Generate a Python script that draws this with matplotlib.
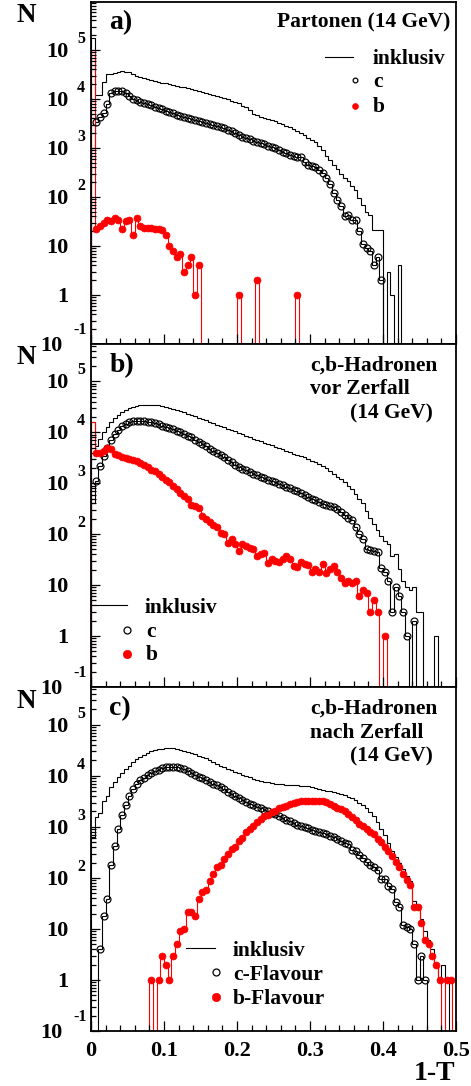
import numpy as np
import matplotlib
matplotlib.use("Agg")
import matplotlib.pyplot as plt
import matplotlib.transforms as mtransforms
from matplotlib.lines import Line2D
from matplotlib.ticker import LogLocator, MultipleLocator, NullFormatter

plt.rcParams['font.family'] = ['Liberation Serif', 'DejaVu Serif']
plt.rcParams['font.weight'] = 'bold'

W, H = 471, 1086
edges = np.linspace(0.0, 0.5, 101)
centers = 0.5 * (edges[:-1] + edges[1:])

# a) Partonen (14 GeV)
incl_a = [175000, 12000, 12000, 22600, 32000, 33000, 34000, 36000, 36500, 36000,
          35000, 32000, 29000, 27500, 26500, 25500, 24400, 23300, 22500, 21600,
          20800, 20000, 19300, 18600, 17900, 17200, 16600, 15900, 15200, 14500,
          13800, 13200, 12500, 11900, 11300, 10800, 10300, 9800, 9200, 8600,
          8100, 7300, 6800, 5900, 4900, 4600, 4300, 4100, 3900, 3720,
          3500, 3300, 3050, 2800, 2650, 2400, 2200, 2000, 1800, 1600,
          1420, 1300, 1100, 900, 700, 560, 440, 370, 290, 240,
          210, 170, 140, 94, 70, 50, 43, 21, 21, 21,
          0, 3, 1, 0, 4, 0, 0, 0, 0, 0,
          0, 0, 0, 0, 0, 0, 0, 0, 0, 0]
c_a = [1000, 3340, 4360, 5100, 7770, 13400, 14800, 14800, 14800, 13000,
       11500, 10200, 9550, 8800, 8170, 7800, 7400, 7000, 6600, 6200,
       5800, 5400, 5100, 4800, 4550, 4300, 4050, 3850, 3650, 3500,
       3350, 3200, 3050, 2900, 2750, 2620, 2500, 2330, 2190, 2030,
       1880, 1710, 1600, 1500, 1410, 1320, 1240, 1180, 1120, 1060,
       985, 910, 840, 778, 730, 690, 655, 645, 505, 455,
       430, 400, 355, 305, 240, 185, 119, 87, 64, 41,
       43, 34, 34, 20, 11, 9, 8, 4, 6, 2,
       0, 0, 0, 0, 0, 0, 0, 0, 0, 0,
       0, 0, 0, 0, 0, 0, 0, 0, 0, 0]
b_a = [100000, 22, 25, 29, 34, 33, 37, 34, 22, 33,
       34, 17, 37, 25, 23, 23, 23, 22, 22, 21,
       17, 10, 8, 6, 7, 3, 4, 6, 1, 4,
       0, 0, 0, 0, 0, 0, 0, 0, 0, 0,
       1, 0, 0, 0, 0, 2, 0, 0, 0, 0,
       0, 0, 0, 0, 0, 0, 1, 0, 0, 0,
       0, 0, 0, 0, 0, 0, 0, 0, 0, 0,
       0, 0, 0, 0, 0, 0, 0, 0, 0, 0,
       0, 0, 0, 0, 0, 0, 0, 0, 0, 0,
       0, 0, 0, 0, 0, 0, 0, 0, 0, 0]

# b) c,b-Hadronen vor Zerfall
incl_b = [15700, 5480, 7400, 10300, 12500, 15700, 18800, 21900, 24700, 27400,
          29600, 31200, 32800, 33700, 34200, 34600, 34600, 34200, 33700, 33000,
          32000, 30500, 29000, 27500, 26000, 24500, 23000, 21800, 20500, 19300,
          18200, 17100, 16100, 15100, 14200, 13400, 12600, 11800, 11000, 10400,
          9700, 9100, 8500, 7900, 7500, 7000, 6600, 6200, 5900, 5600,
          5200, 4900, 4600, 4350, 4100, 3800, 3600, 3400, 3200, 3000,
          2750, 2550, 2350, 2150, 1950, 1700, 1500, 1350, 1200, 1060,
          900, 760, 620, 500, 400, 290, 210, 160, 120, 90,
          75, 65, 38, 40, 21, 12, 9, 8, 9, 3,
          3, 0, 0, 0, 1, 0, 0, 0, 0, 0]
c_b = [400, 1130, 2220, 3480, 4850, 7070, 9270, 11300, 13100, 14600,
       15700, 16500, 16700, 16700, 16500, 16200, 15700, 15000, 14400, 13500,
       12800, 12200, 11500, 10800, 10100, 9400, 8600, 7900, 7200, 6500,
       5800, 5300, 4800, 4350, 3950, 3550, 3200, 2900, 2600, 2300,
       2080, 1920, 1780, 1650, 1540, 1440, 1350, 1260, 1180, 1110,
       1040, 980, 920, 860, 800, 740, 690, 640, 590, 545,
       500, 460, 420, 390, 370, 360, 340, 310, 270, 235,
       210, 190, 137, 102, 81, 50, 48, 47, 44, 22,
       18, 12, 3, 9, 6, 3, 1, 0, 2, 0,
       0, 0, 0, 0, 0, 0, 0, 0, 0, 0]
b_b = [15700, 3940, 4000, 4370, 4850, 4700, 3800, 3500, 3240, 3080,
       2990, 2900, 2770, 2500, 2280, 2060, 1830, 1700, 1530, 1310,
       1180, 1050, 900, 775, 644, 552, 493, 375, 353, 322,
       232, 194, 177, 153, 137, 106, 101, 67, 80, 64,
       46, 63, 58, 53, 50, 38, 41, 43, 27, 33,
       30, 28, 32, 38, 33, 24, 23, 28, 26, 25,
       18, 21, 18, 26, 17, 21, 24, 18, 14, 11,
       12, 11, 12, 6, 8, 7, 3, 5, 3, 0,
       1, 0, 0, 0, 0, 0, 0, 0, 0, 0,
       0, 0, 0, 0, 0, 0, 0, 0, 0, 0]

# c) c,b-Hadronen nach Zerfall
incl_c = [630, 1550, 1900, 3280, 4110, 6000, 7520, 9420, 11300, 13700,
          15900, 18500, 20900, 23200, 25800, 28200, 30000, 31400, 32800, 33800,
          34500, 35000, 35000, 34000, 32500, 30800, 29100, 27800, 26300, 24800,
          23600, 22000, 20300, 18800, 17200, 15900, 14700, 13700, 12800, 11900,
          11200, 10500, 9900, 9300, 8800, 8400, 8000, 7700, 7400, 7200,
          7000, 6900, 6800, 6700, 6650, 6600, 6500, 6450, 6350, 6200,
          6050, 5850, 5600, 5350, 5150, 4950, 4750, 4550, 4400, 4150,
          3900, 3600, 3300, 2950, 2650, 2300, 1950, 1600, 1250, 920,
          700, 480, 340, 260, 200, 150, 110, 85, 35, 30,
          16, 9, 6, 4, 2, 1, 2, 1, 0, 0]
c_c = [0, 0, 4, 18, 39, 180, 430, 914, 1670, 2740,
       4110, 5560, 6970, 8100, 9200, 10300, 11300, 12300, 13200, 14000,
       14600, 15000, 15100, 15000, 14500, 13500, 12300, 11300, 10400, 9600,
       8900, 8200, 7600, 7000, 6500, 6000, 5400, 4900, 4400, 4000,
       3650, 3350, 3100, 2850, 2650, 2450, 2300, 2150, 2000, 1870,
       1750, 1620, 1500, 1380, 1280, 1180, 1100, 1030, 980, 930,
       880, 830, 790, 750, 710, 670, 630, 580, 540, 480,
       470, 360, 330, 275, 240, 205, 180, 160, 140, 96,
       94, 70, 60, 33, 27, 12, 11, 10, 5, 1,
       3, 1, 0, 0, 0, 0, 0, 0, 0, 0]
b_c = [0, 0, 0, 0, 0, 0, 0, 0, 0, 0,
       0, 0, 0, 0, 0, 0, 1, 0, 1, 3,
       2, 1, 3, 5, 9, 10, 21, 21, 18, 39,
       54, 59, 85, 120, 162, 175, 236, 296, 371, 399,
       540, 600, 785, 914, 1060, 1240, 1440, 1620, 1720, 1940,
       2090, 2320, 2430, 2620, 2830, 2960, 3050, 3150, 3200, 3250,
       3280, 3280, 3250, 3200, 3050, 2830, 2620, 2360, 2190, 2000,
       1800, 1550, 1390, 1150, 1060, 914, 810, 730, 582, 500,
       411, 333, 274, 203, 162, 120, 89, 71, 27, 27,
       13, 6, 5, 3, 2, 1, 0, 1, 1, 0]

FLOOR = 1e-3
FONT = dict(fontweight='bold', family=['Liberation Serif', 'DejaVu Serif'])


def fx(x):
    return x / W


def fy(y):
    return 1.0 - y / H


def ftext(x, y, s, size, ha='left'):
    fig.text(fx(x), fy(y), s, ha=ha, va='baseline', fontsize=size, **FONT)


def steps(ax, vals, color):
    v = np.asarray(vals, dtype=float)
    ax.stairs(np.where(v > 0, v, FLOOR), edges, baseline=FLOOR,
              color=color, lw=0.8)


def points(ax, vals, **kw):
    v = np.asarray(vals, dtype=float)
    # first bin holds the T=1 spike, drawn as outline only
    keep = (v > 0) & (np.arange(v.size) > 0)
    ax.plot(centers[keep], v[keep], ls='none', marker='o', **kw)


def ylabels(ax):
    base = mtransforms.blended_transform_factory(fig.transFigure, ax.transData)
    low = mtransforms.offset_copy(base, fig=fig, y=-7, units='dots')
    for e in range(2, 6):
        fig.text(fx(68.5), 10.0 ** e, '10', transform=low, ha='right',
                 va='baseline', fontsize=16, **FONT)
        fig.text(fx(77), 10.0 ** e, str(e),
                 transform=mtransforms.offset_copy(base, fig=fig, y=7, units='dots'),
                 ha='left', va='baseline', fontsize=11.5, **FONT)
    fig.text(fx(68.5), 10.0, '10', transform=low, ha='right', va='baseline',
             fontsize=16, **FONT)
    fig.text(fx(68.5), 1.0, '1', transform=low, ha='right', va='baseline',
             fontsize=16, **FONT)
    fig.text(fx(62.5), 0.1, '10', transform=low, ha='right', va='baseline',
             fontsize=16, **FONT)
    fig.text(fx(86.5), 0.1, '-1',
             transform=mtransforms.offset_copy(base, fig=fig, y=10, units='dots'),
             ha='right', va='baseline', fontsize=11.5, **FONT)


def legend_marks(xl0, xl1, yl, xm, yc, yb, ms_c, ms_b):
    fig.add_artist(Line2D([fx(xl0), fx(xl1)], [fy(yl), fy(yl)], color='black', lw=0.8))
    fig.add_artist(Line2D([fx(xm)], [fy(yc)], ls='none', marker='o', ms=ms_c,
                          mfc='none', mec='black', mew=0.9))
    fig.add_artist(Line2D([fx(xm)], [fy(yb)], ls='none', marker='o', ms=ms_b,
                          mfc='red', mec='red', mew=0.5))


fig = plt.figure(figsize=(W / 100, H / 100), dpi=100)

panels = [
    (2, 344, 9.5e5, incl_a, c_a, b_a),
    (344, 687, 5.4e5, incl_b, c_b, b_b),
    (687, 1031, 5.5e5, incl_c, c_c, b_c),
]

axes = []
for top, bot, ymax, incl, cc, bb in panels:
    ax = fig.add_axes([fx(91), fy(bot), (456 - 91) / W, (bot - top) / H])
    ax.set_yscale('log')
    ax.set_xlim(0, 0.5)
    ax.set_ylim(0.1, ymax)

    steps(ax, incl, 'black')
    steps(ax, cc, 'black')
    points(ax, cc, ms=5.0, mfc='none', mec='black', mew=0.85)
    steps(ax, bb, 'red')
    points(ax, bb, ms=5.0, mfc='red', mec='red', mew=0.5)

    ax.xaxis.set_major_locator(MultipleLocator(0.1))
    ax.xaxis.set_minor_locator(MultipleLocator(0.02))
    ax.yaxis.set_major_locator(LogLocator(base=10, numticks=20))
    ax.yaxis.set_minor_locator(LogLocator(base=10, subs=np.arange(2, 10), numticks=20))
    ax.yaxis.set_minor_formatter(NullFormatter())
    ax.tick_params(which='both', direction='in', top=False, right=False,
                   labelbottom=False, labelleft=False, width=0.9)
    ax.tick_params(axis='x', which='major', length=7.5)
    ax.tick_params(axis='x', which='minor', length=4)
    ax.tick_params(axis='y', which='major', length=6.5)
    ax.tick_params(axis='y', which='minor', length=3.5)
    for sp in ax.spines.values():
        sp.set_linewidth(1.3)
    ylabels(ax)
    axes.append(ax)

# x tick labels on the lowest panel
trans_x = mtransforms.blended_transform_factory(axes[2].transData, fig.transFigure)
for t, s in zip([0.0, 0.1, 0.2, 0.3, 0.4, 0.5], ['0', '0.1', '0.2', '0.3', '0.4', '0.5']):
    fig.text(t, fy(1055.5), s, transform=trans_x, ha='center', va='baseline',
             fontsize=16, **FONT)
ftext(455, 1080, '1-T', 20, ha='right')

# axis titles and panel tags
for yb in (21.7, 363.5, 708.3):
    ftext(16.5, yb, 'N', 19.5)
ftext(109.5, 29.5, 'a)', 20)
ftext(109.5, 372.5, 'b)', 20)
ftext(109.5, 715.5, 'c)', 20)

ftext(450, 27.5, 'Partonen (14 GeV)', 15.5, ha='right')
ftext(310, 371, 'c,b-Hadronen', 15.5)
ftext(310, 394.5, 'vor Zerfall', 15.5)
ftext(350, 418, '(14 GeV)', 15.5)
ftext(310, 714, 'c,b-Hadronen', 15.5)
ftext(310, 737.5, 'nach Zerfall', 15.5)
ftext(350, 761, '(14 GeV)', 15.5)

# legends
legend_marks(325, 353, 57, 355, 80, 105.5, 3.4, 4.2)
ftext(373, 64.5, 'inklusiv', 15.5)
ftext(373, 87, 'c', 15.5)
ftext(373, 112, 'b', 15.5)

legend_marks(96, 127, 605, 127, 630, 654, 5.0, 6.0)
ftext(145, 613, 'inklusiv', 15.5)
ftext(146, 637, 'c', 15.5)
ftext(146, 660, 'b', 15.5)

legend_marks(186, 215, 948, 216, 972, 997, 5.0, 6.0)
ftext(233, 955.5, 'inklusiv', 15.5)
ftext(233, 980, 'c-Flavour', 15.5)
ftext(233, 1004, 'b-Flavour', 15.5)

fig.savefig('out.png', dpi=100)
